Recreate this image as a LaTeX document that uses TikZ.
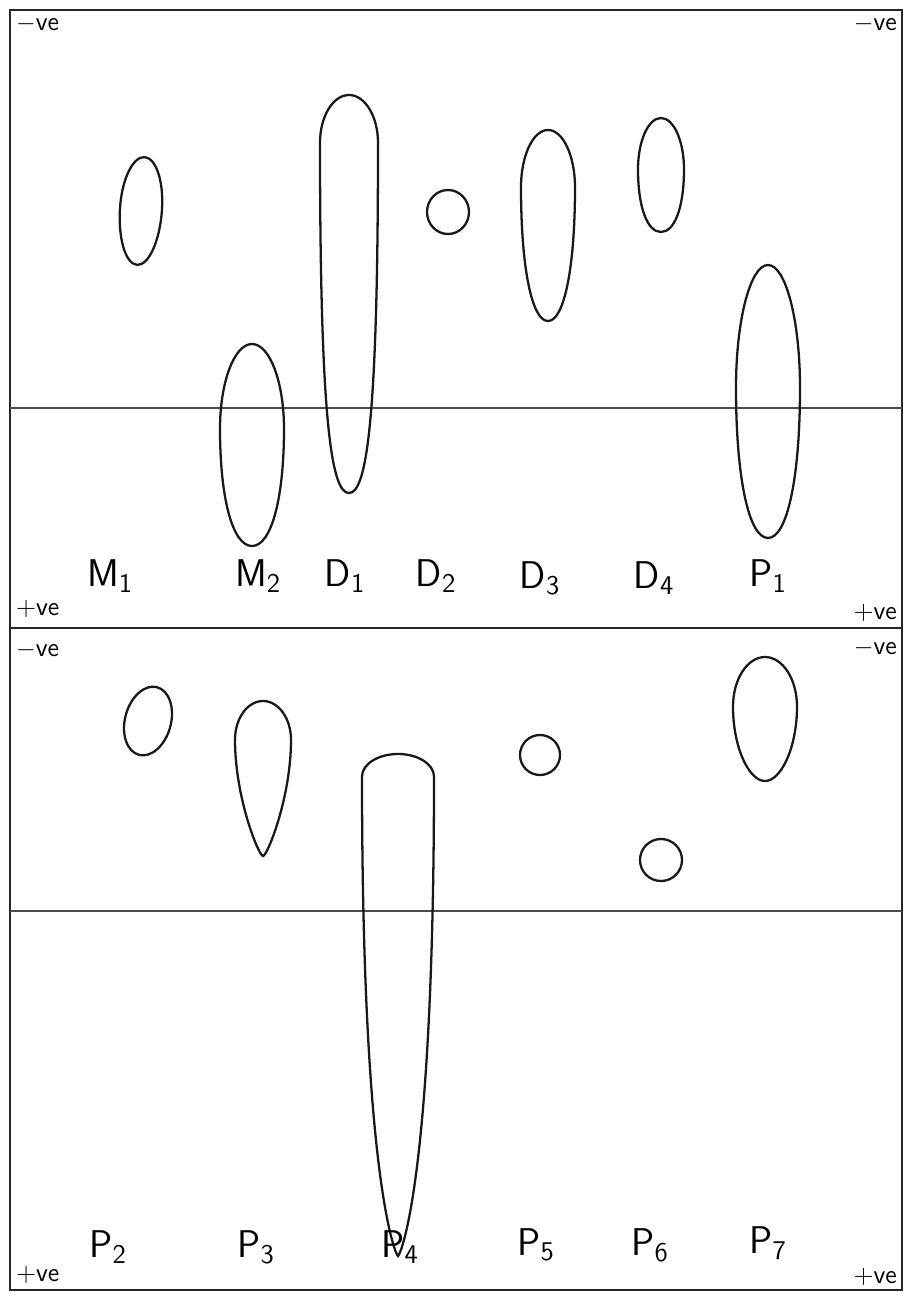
\documentclass[tikz,border=0pt]{standalone}
\usepackage{amsmath}
\usepackage{tikz}
\usetikzlibrary{positioning}

% spot outline: [rotation]{cx}{top}{bottom}{half width}{widest at}{side fullness}{bottom width}
\newcommand{\drawspot}[8][0]{%
  \pgfmathsetmacro\spym{#3+(#4-#3)*#6}
  \pgfmathsetmacro\spyu{\spym-0.552*(\spym-#3)}
  \pgfmathsetmacro\spyl{\spym+#7*(#4-\spym)}
  \pgfmathsetmacro\spxr{#2+#5}
  \pgfmathsetmacro\spxl{#2-#5}
  \pgfmathsetmacro\spkr{#2+0.552*#5}
  \pgfmathsetmacro\spkl{#2-0.552*#5}
  \pgfmathsetmacro\sptr{#2+#8*#5}
  \pgfmathsetmacro\sptl{#2-#8*#5}
  \draw[spot, rotate around={#1:(#2,\spym)}]
    (#2,#3) .. controls (\spkr,#3) and (\spxr,\spyu) .. (\spxr,\spym)
    .. controls (\spxr,\spyl) and (\sptr,#4) .. (#2,#4)
    .. controls (\sptl,#4) and (\spxl,\spyl) .. (\spxl,\spym)
    .. controls (\spxl,\spyu) and (\spkl,#3) .. cycle;
}

\begin{document}
\begin{tikzpicture}[
    x=0.02cm, y=-0.02cm,
    spot/.style={line width=1.3pt, black!90},
    frame/.style={line width=0.9pt, black!85},
    baseline/.style={line width=0.8pt, black!70},
    lbl/.style={font=\fontsize{22}{26}\selectfont\sffamily},
    sign/.style={font=\fontsize{15}{17}\selectfont\sffamily, inner sep=1pt},
]
\useasboundingbox (0,0) rectangle (904,1295);

% --- Panels ---
\draw[frame] (10,10) rectangle (902,1290);
\draw[frame] (10,628) -- (902,628);
\draw[baseline] (10,408) -- (902,408);
\draw[baseline] (10,911) -- (902,911);

% --- Polarity marks ---
\node[sign, anchor=north west] (tl) at (14,14) {$-$ve};
\node[sign, anchor=north east] (tr) at (899,14) {$-$ve};
\node[sign, anchor=south west] (bl) at (14,620) {+ve};
\node[sign, anchor=south east] (br) at (899,624) {+ve};
\node[sign, anchor=north west] (tl2) at (14,640) {$-$ve};
\node[sign, anchor=north east] (tr2) at (899,638) {$-$ve};
\node[sign, anchor=south west] (bl2) at (14,1286) {+ve};
\node[sign, anchor=south east] (br2) at (899,1288) {+ve};

% --- Upper strip spots ---
\drawspot[-4]{141}{157}{265}{21}{0.48}{0.552}{0.552}   % M1
\drawspot{252}{344}{546}{32}{0.42}{0.6}{0.6}           % M2
\drawspot{349}{95}{493}{29}{0.12}{0.8}{0.6}            % D1
\drawspot{448}{190}{234}{21}{0.5}{0.552}{0.552}        % D2
\drawspot{548}{130}{321}{27}{0.3}{0.6}{0.6}            % D3
\drawspot{661}{118}{232}{23}{0.45}{0.6}{0.6}           % D4
\drawspot{768}{265}{538}{32}{0.45}{0.6}{0.6}           % P1

% --- Lower strip spots ---
\drawspot[-15]{148}{686}{756}{23}{0.5}{0.552}{0.552}   % P2
\drawspot{263}{701}{856}{28}{0.25}{0.5}{0.15}          % P3
\drawspot{398}{754}{1256}{36}{0.045}{0.85}{0.05}       % P4
\drawspot{540}{735}{775}{20}{0.5}{0.552}{0.552}        % P5
\drawspot{661}{839}{881}{21}{0.5}{0.552}{0.552}        % P6
\drawspot{765}{657}{781}{32}{0.4}{0.55}{0.5}           % P7

% --- Upper labels ---
\node[lbl] (m1) at (110,576) {M\textsubscript{1}};
\node[lbl] (m2) at (258,576) {M\textsubscript{2}};
\node[lbl] (d1) at (345,576) {D\textsubscript{1}};
\node[lbl] (d2) at (436,576) {D\textsubscript{2}};
\node[lbl] (d3) at (540,578) {D\textsubscript{3}};
\node[lbl] (d4) at (654,578) {D\textsubscript{4}};
\node[lbl] (p1) at (768,576) {P\textsubscript{1}};

% --- Lower labels ---
\node[lbl] (p2) at (108,1247) {P\textsubscript{2}};
\node[lbl] (p3) at (256,1247) {P\textsubscript{3}};
\node[lbl] (p4) at (400,1247) {P\textsubscript{4}};
\node[lbl] (p5) at (536,1245) {P\textsubscript{5}};
\node[lbl] (p6) at (650,1245) {P\textsubscript{6}};
\node[lbl] (p7) at (768,1243) {P\textsubscript{7}};

\end{tikzpicture}
\end{document}
